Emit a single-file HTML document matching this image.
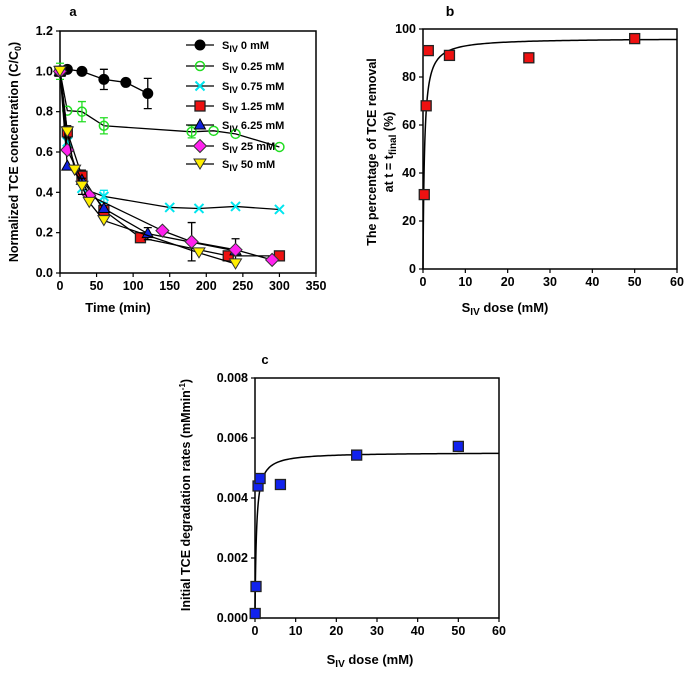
<!DOCTYPE html>
<html><head><meta charset="utf-8"><style>
body{margin:0;background:#fff}
svg{display:block;font-family:"Liberation Sans",Arial,sans-serif;font-weight:bold}
</style></head><body>
<svg id="s" width="685" height="673"></svg>
<script>
// ---- Panel a data ----
const aSeriesNames=["0 mM","0.25 mM","0.75 mM","1.25 mM","6.25 mM","25 mM","50 mM"];
const a0x=[0,10,30,60,90,120], a0y=[1.0,1.01,1.0,0.96,0.945,0.89], a0e=[0,0,0,0.05,0,0.075];
const a1x=[0,10,30,60,180,210,240,300], a1y=[1.0,0.805,0.80,0.73,0.70,0.705,0.69,0.625], a1e=[0.04,0,0.05,0.04,0.03,0,0,0];
const a2x=[0,10,30,60,150,190,240,300], a2y=[1.0,0.65,0.42,0.38,0.325,0.32,0.33,0.315], a2e=[0,0,0,0.03,0,0,0,0];
const a3x=[0,10,30,60,110,230,300], a3y=[1.0,0.70,0.48,0.31,0.175,0.085,0.085], a3e=[0,0.03,0.03,0,0,0,0];
const a4x=[0,10,30,60,120,240], a4y=[1.0,0.53,0.46,0.32,0.195,0.11], a4e=[0,0,0,0,0.03,0];
const a5x=[0,10,40,140,180,240,290], a5y=[1.0,0.61,0.385,0.21,0.155,0.115,0.065], a5e=[0,0,0,0,0.095,0.055,0];
const a6x=[0,10,20,30,40,60,190,240], a6y=[1.0,0.70,0.51,0.43,0.35,0.26,0.10,0.045], a6e=[0,0,0,0.04,0,0,0,0];
const aXTicks=[0,50,100,150,200,250,300,350];
const aYTicks=[0.0,0.2,0.4,0.6,0.8,1.0,1.2];
// ---- Panel b data ----
const bX=[0.3,0.75,1.25,6.25,25,50];
const bY=[31,68,91,89,88,96];
const bVmax=[96.2], bK=[0.35];
const bXTicks=[0,10,20,30,40,50,60];
const bYTicks=[0,20,40,60,80,100];
// ---- Panel c data ----
const cX=[0.05,0.25,0.75,1.25,6.25,25,50];
const cY=[0.00015,0.00105,0.0044,0.00465,0.00445,0.00543,0.00572];
const cVmax=[0.00552], cK=[0.35];
const cXTicks=[0,10,20,30,40,50,60];
const cYTicks=[0.000,0.002,0.004,0.006,0.008];

const NS="http://www.w3.org/2000/svg", S=document.getElementById('s');
function el(t,a,p){const e=document.createElementNS(NS,t);for(const k in a)e.setAttribute(k,a[k]);(p||S).appendChild(e);return e;}
function txt(x,y,s,o,p){const e=el('text',Object.assign({x:x,y:y,'font-size':12,'text-anchor':'middle'},o||{}),p);e.innerHTML=s;return e;}

function axes(name,L,R,T,B,xs,ys,xt,yt,fmt,yfmt){
  const g=el('g',{});
  
  
  const f=el('rect',{x:L,y:T,width:R-L,height:B-T,fill:'none',stroke:'#000','stroke-width':1.5},g);
  
  
  xt.forEach(v=>{const x=xs(v);el('line',{x1:x,x2:x,y1:B,y2:B+4,stroke:'#000','stroke-width':1.2},g);
    const t=txt(x,B+17,fmt(v),{'font-size':12.5},g);});
  yt.forEach(v=>{const y=ys(v);el('line',{x1:L-4,x2:L,y1:y,y2:y,stroke:'#000','stroke-width':1.2},g);
    const t=txt(L-7,y+4,yfmt(v),{'text-anchor':'end','font-size':12.5},g);});
}
function marker(type,x,y,p){
  let e;
  if(type==='circle')e=el('circle',{cx:x,cy:y,r:5,fill:'#000',stroke:'#000'},p);
  else if(type==='ocircle')e=el('circle',{cx:x,cy:y,r:4.5,fill:'none',stroke:'#22dd22','stroke-width':1.5},p);
  else if(type==='x'){e=el('path',{d:`M${x-4.5},${y-4.5}L${x+4.5},${y+4.5}M${x-4.5},${y+4.5}L${x+4.5},${y-4.5}`,stroke:'#00e5ee','stroke-width':2},p);}
  else if(type==='sq')e=el('rect',{x:x-5,y:y-5,width:10,height:10,fill:'#ee1111',stroke:'#222','stroke-width':1.3},p);
  else if(type==='bsq')e=el('rect',{x:x-5,y:y-5,width:10,height:10,fill:'#1122ee',stroke:'#222','stroke-width':1.3},p);
  else if(type==='tri')e=el('path',{d:`M${x},${y-6}L${x+5.5},${y+4}L${x-5.5},${y+4}Z`,fill:'#1122dd',stroke:'#000','stroke-width':1},p);
  else if(type==='dia')e=el('path',{d:`M${x},${y-6.5}L${x+6.5},${y}L${x},${y+6.5}L${x-6.5},${y}Z`,fill:'#ff22ee',stroke:'#333','stroke-width':1},p);
  else if(type==='itri')e=el('path',{d:`M${x-6},${y-5}L${x+6},${y-5}L${x},${y+5}Z`,fill:'#ffee00',stroke:'#333','stroke-width':1},p);
  return e;
}

// ---------- Panel a ----------
{
const L=60,R=316,T=31,B=273;
const xs=v=>L+(R-L)*v/350, ys=v=>B-(B-T)*v/1.2;
axes('panel-a',L,R,T,B,xs,ys,aXTicks,aYTicks,v=>v,v=>v.toFixed(1));
const series=[[a0x,a0y,a0e,'circle','#000'],[a1x,a1y,a1e,'ocircle','#22dd22'],[a2x,a2y,a2e,'x','#00e5ee'],[a3x,a3y,a3e,'sq','#000'],[a4x,a4y,a4e,'tri','#000'],[a5x,a5y,a5e,'dia','#000'],[a6x,a6y,a6e,'itri','#000']];
series.forEach((s,i)=>{
  const g=el('g',{});
  
  
  el('polyline',{points:s[0].map((x,j)=>xs(x)+','+ys(s[1][j])).join(' '),fill:'none',stroke:'#000','stroke-width':1.3},g);
  s[0].forEach((x,j)=>{if(s[2][j]>0){const X=xs(x),y1=ys(s[1][j]-s[2][j]),y2=ys(s[1][j]+s[2][j]);
    el('path',{d:`M${X},${y1}L${X},${y2}M${X-4},${y1}L${X+4},${y1}M${X-4},${y2}L${X+4},${y2}`,stroke:s[4],'stroke-width':1.3},g);}});
  s[0].forEach((x,j)=>{const m=marker(s[3],xs(x),ys(s[1][j]),g);});
});
// legend
const lg=el('g',{});


const ly=[45,66,86,106,125,146,164];
series.forEach((s,i)=>{
  const e=el('g',{},lg);
  
  
  el('line',{x1:186,x2:214,y1:ly[i],y2:ly[i],stroke:'#000','stroke-width':1.3},e);
  marker(s[3],200,ly[i],e);
  txt(222,ly[i]+4,'S<tspan font-size="9" dy="3">IV</tspan><tspan dy="-3"> '+aSeriesNames[i]+'</tspan>',{'text-anchor':'start','font-size':11},e);
});
const pa=txt(73,16,'a',{'font-size':13});
const xt=txt(118,312,'Time (min)',{'font-size':13});
const yt=txt(0,0,'Normalized TCE concentration (C/C<tspan font-size="9" dy="3">0</tspan><tspan dy="-3">)</tspan>',{'font-size':12.5,transform:'translate(18,152) rotate(-90)'});

}

// ---------- Panel b ----------
{
const L=423,R=677,T=29,B=269;
const xs=v=>L+(R-L)*v/60, ys=v=>B-(B-T)*v/100;
axes('panel-b',L,R,T,B,xs,ys,bXTicks,bYTicks,v=>v,v=>v);
let pts=[];for(let x=0;x<=60;x+=(x<3?0.02:0.5))pts.push(xs(x)+','+ys(bVmax[0]*x/(bK[0]+x)));
const c=el('polyline',{points:pts.join(' '),fill:'none',stroke:'#000','stroke-width':1.5});

bX.forEach((x,i)=>{const m=marker('sq',xs(x),ys(bY[i]));});
const pb=txt(450,16,'b',{'font-size':14});
const xt=txt(505,312,'S<tspan font-size="10" dy="3">IV</tspan><tspan dy="-3"> dose (mM)</tspan>',{'font-size':13});

const y1=txt(0,0,'The percentage of TCE removal',{'font-size':12.5,transform:'translate(376,152) rotate(-90)'});

const y2=txt(0,0,'at t = t<tspan font-size="10" dy="3">final</tspan><tspan dy="-3"> (%)</tspan>',{'font-size':12.5,transform:'translate(393,152) rotate(-90)'});

}

// ---------- Panel c ----------
{
const L=255,R=499,T=378,B=618;
const xs=v=>L+(R-L)*v/60, ys=v=>B-(B-T)*v/0.008;
axes('panel-c',L,R,T,B,xs,ys,cXTicks,cYTicks,v=>v,v=>v.toFixed(3));
let pts=[];for(let x=0;x<=60;x+=(x<3?0.02:0.5))pts.push(xs(x)+','+ys(cVmax[0]*x/(cK[0]+x)));
const c=el('polyline',{points:pts.join(' '),fill:'none',stroke:'#000','stroke-width':1.5});

cX.forEach((x,i)=>{const m=marker('bsq',xs(x),ys(cY[i]));});
const pc=txt(265,364,'c',{'font-size':13});
const xt=txt(370,664,'S<tspan font-size="10" dy="3">IV</tspan><tspan dy="-3"> dose (mM)</tspan>',{'font-size':13});

const yt=txt(0,0,'Initial TCE degradation rates (mMmin<tspan font-size="8" dy="-5">-1</tspan><tspan dy="5">)</tspan>',{'font-size':12.5,transform:'translate(190,495) rotate(-90)'});

}
</script>
</body></html>
